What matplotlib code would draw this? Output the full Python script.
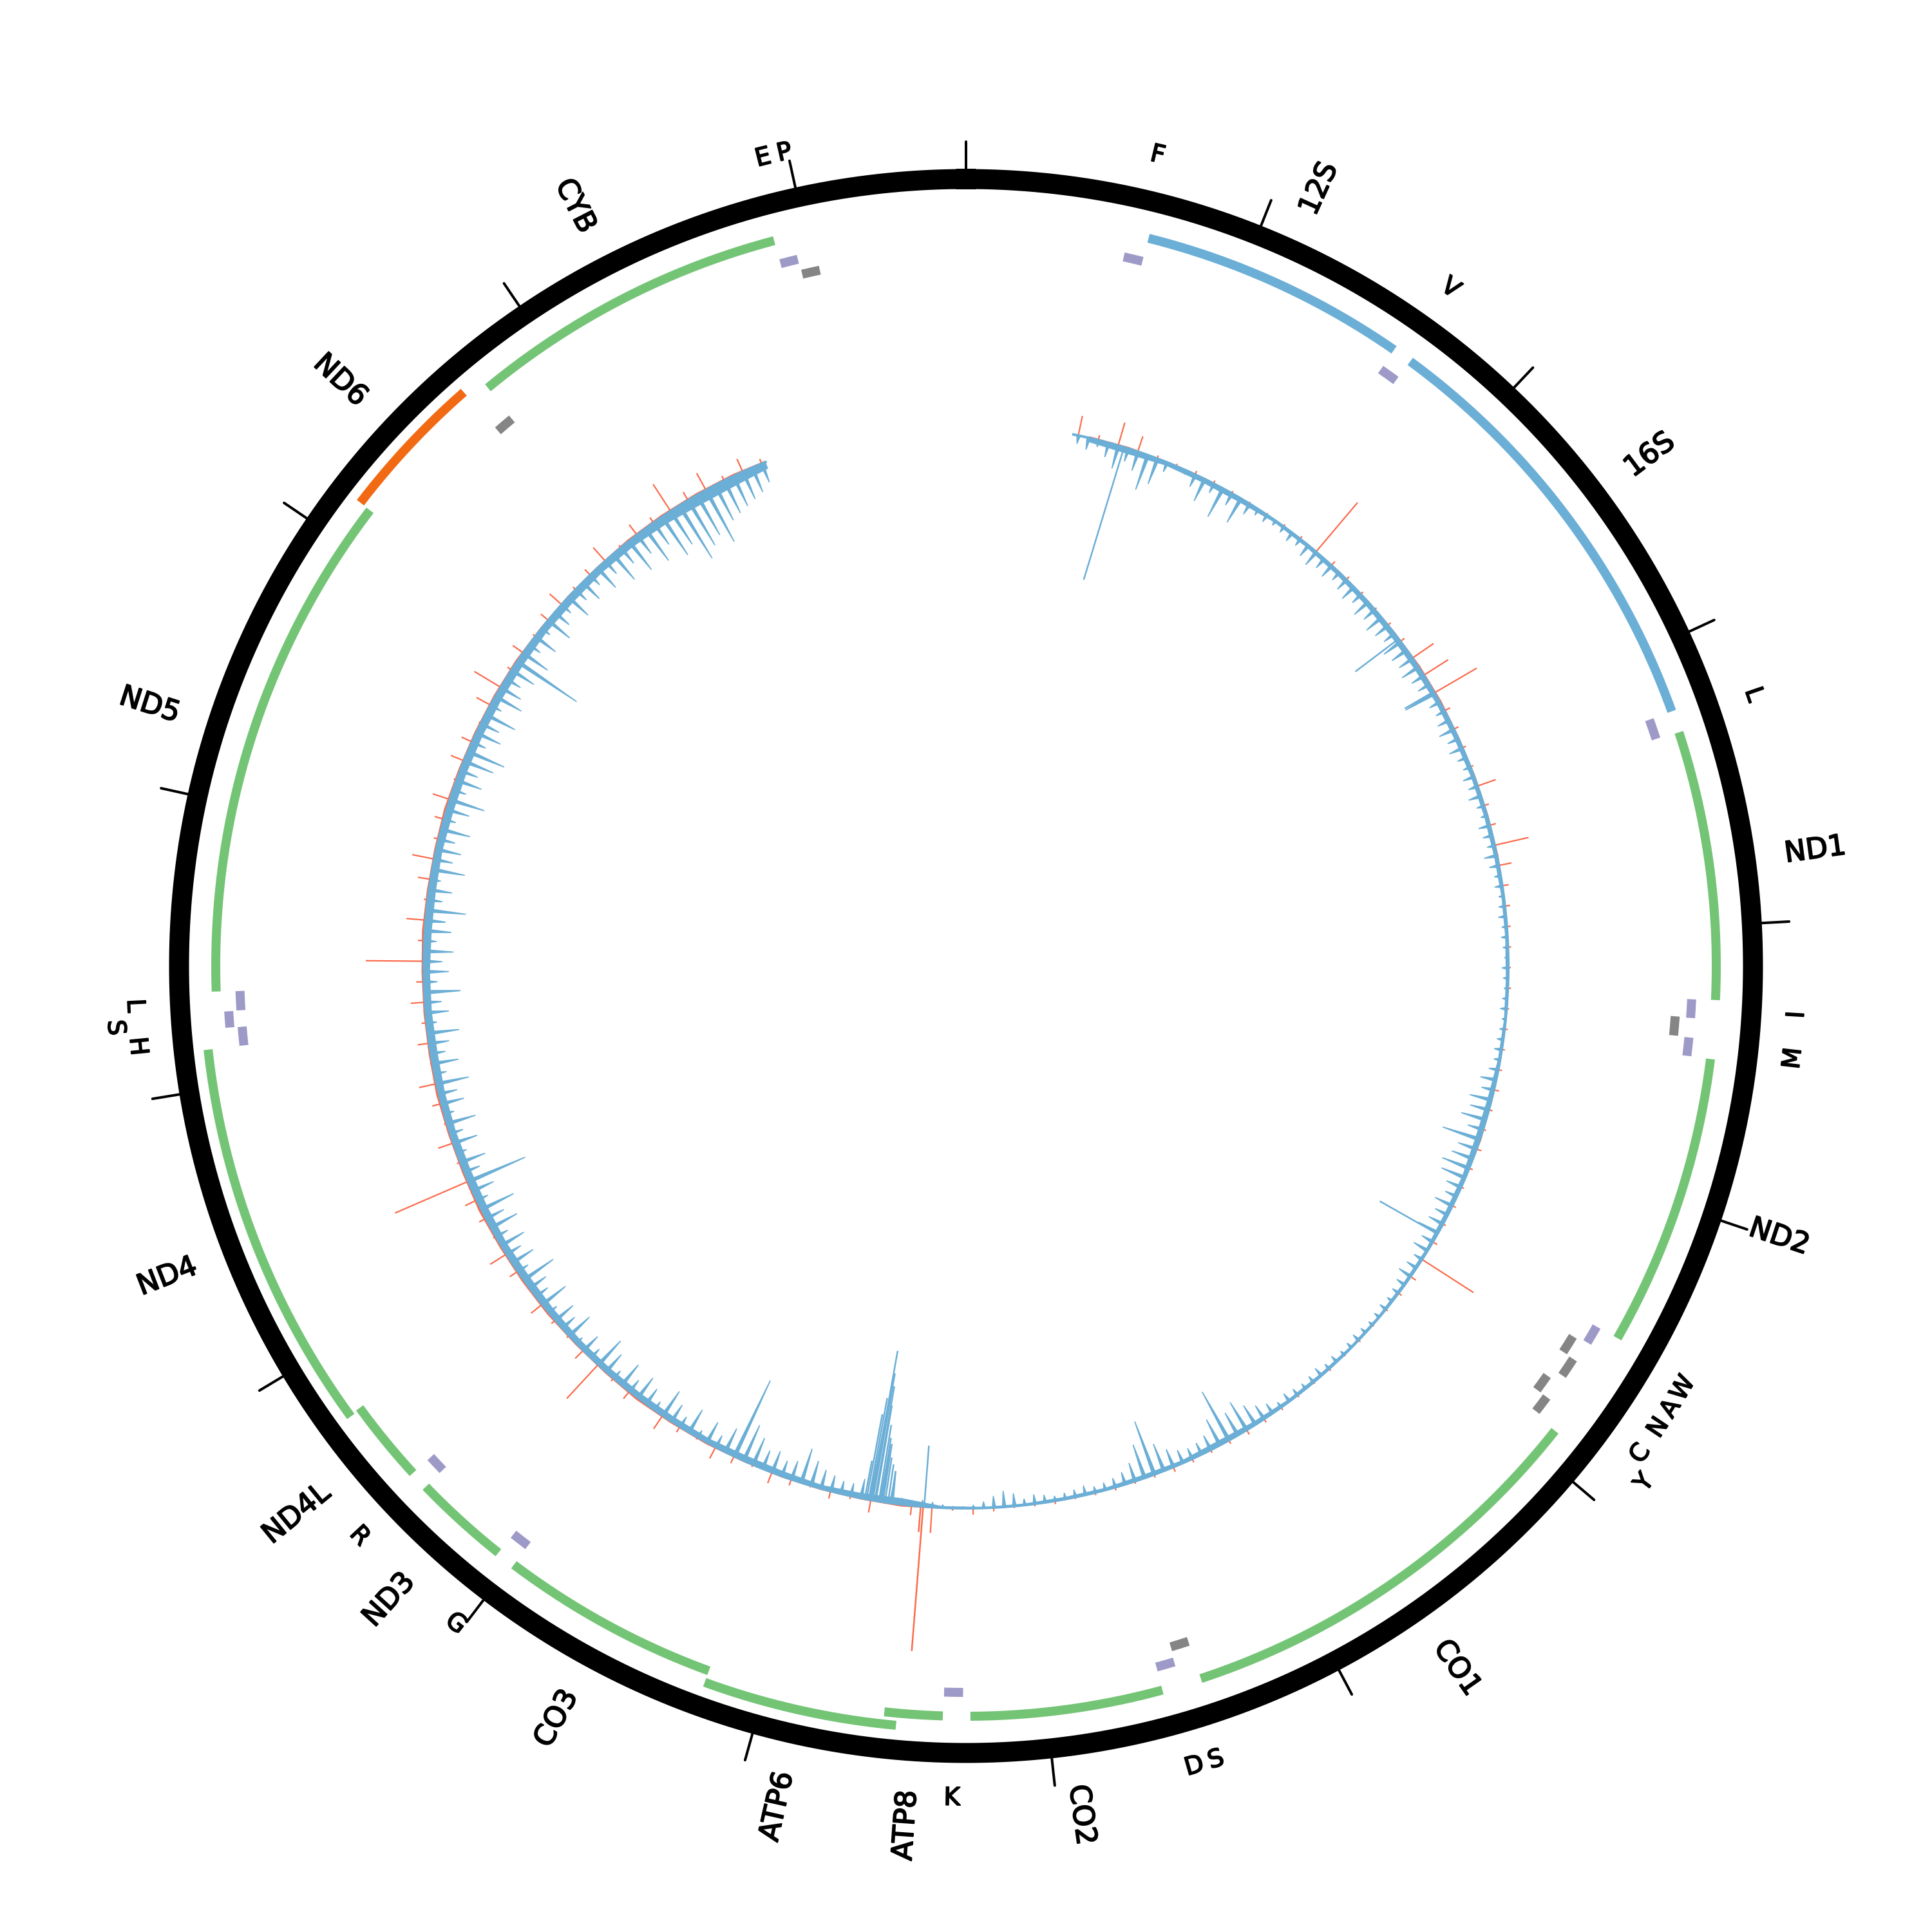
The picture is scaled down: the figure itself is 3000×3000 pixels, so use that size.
import numpy as np
import matplotlib
matplotlib.use("Agg")
import matplotlib.pyplot as plt
import matplotlib.patheffects as pe

plt.rcParams['font.family'] = ['DejaVu Sans']

GENOME_LEN = 16569

# ---------------- gene annotation ----------------
cds_names = ['ND1', 'ND2', 'CO1', 'CO2', 'ATP8', 'ATP6', 'CO3', 'ND3', 'ND4L', 'ND4', 'ND5', 'ND6', 'CYB']
cds_start = [3307, 4470, 5904, 7586, 8366, 8527, 9207, 10059, 10470, 10760, 12337, 14149, 14747]
cds_end = [4262, 5511, 7445, 8269, 8572, 9207, 9990, 10404, 10766, 12137, 14148, 14673, 15887]
cds_strand = ['H', 'H', 'H', 'H', 'H', 'H', 'H', 'H', 'H', 'H', 'H', 'L', 'H']

rrna_names = ['12S', '16S']
rrna_start = [648, 1671]
rrna_end = [1601, 3229]

trna_labels = ['F', 'V', 'L', 'I', '', 'M', 'W', 'A', 'N', 'C', 'Y', 'S', 'D', 'K', 'G', 'R',
               'H', 'S', 'L', '', 'E', 'P']
trna_start = [577, 1602, 3230, 4263, 4329, 4402, 5512, 5587, 5657, 5761, 5826, 7446, 7518, 8295,
              9991, 10405, 12138, 12207, 12266, 14674, 15888, 15956]
trna_end = [647, 1670, 3304, 4331, 4400, 4469, 5579, 5655, 5729, 5826, 5891, 7514, 7585, 8364,
            10058, 10469, 12206, 12265, 12336, 14742, 15953, 16023]
trna_strand = ['H', 'H', 'H', 'H', 'L', 'H', 'H', 'L', 'L', 'L', 'L', 'L', 'H', 'H',
               'H', 'H', 'H', 'H', 'H', 'L', 'H', 'L']

tick_positions = list(range(0, 17000, 1000))

# ---------------- signal track ----------------
signal_start, signal_end = 526, 15570

# blue signal (inward), one value per 50 bp from 550 bp
blue_pos0, blue_step = 550, 50
blue_vals = [
    12, 18, 10, 22, 36, 20, 30, 56, 41, 15,
    5, 6, 20, 37, 15, 49, 20, 42, 18, 10,
    12, 8, 10, 15, 12, 20, 25, 18, 22, 15,
    20, 25, 18, 28, 22, 30, 25, 20, 32, 28,
    25, 30, 22, 20, 52, 18, 15, 20, 25, 18,
    22, 15, 12, 18, 15, 20, 12, 10, 18, 15,
    12, 20, 15, 10, 12, 8, 10, 12, 8, 10,
    8, 6, 10, 8, 6, 8, 10, 6, 8, 10,
    12, 10, 15, 25, 20, 35, 30, 40, 25, 61,
    30, 35, 45, 40, 25, 20, 30, 22, 25, 35,
    20, 25, 15, 18, 22, 15, 12, 10, 12, 10,
    8, 10, 12, 10, 8, 12, 10, 15, 12, 10,
    12, 15, 10, 18, 25, 35, 50, 40, 86, 45,
    25, 20, 18, 22, 30, 45, 88, 55, 30, 20,
    15, 12, 10, 15, 12, 10, 8, 12, 15, 10,
    20, 25, 18, 10, 5, 3, 3, 5, 8, 10,
    8, 10, 50, 90, 140, 30, 20, 20, 25, 30,
    40, 55, 30, 25, 35, 30, 45, 60, 130, 40,
    20, 35, 12, 40, 18, 30, 45, 15, 28, 38,
    22, 40, 15, 35, 50, 18, 30, 12, 42, 25,
    35, 15, 45, 22, 30, 55, 18, 38, 25, 40,
    20, 45, 30, 55, 18, 35, 95, 25, 40, 15,
    38, 20, 45, 15, 35, 28, 50, 18, 40, 22,
    30, 48, 15, 35, 25, 55, 20, 38, 28, 45,
    18, 40, 30, 60, 22, 35, 15, 50, 28, 38,
    25, 45, 18, 35, 55, 20, 40, 28, 48, 60,
    22, 40, 30, 50, 18, 45, 35, 25, 40, 110,
    45, 20, 38, 15, 42, 28, 18, 40, 22, 35,
    20, 40, 25, 50, 30, 55, 35, 60, 40, 70,
    60, 95, 80, 70, 90, 60, 55, 50, 45, 40,
    30]

# red signal (outward), one value per 100 bp from 550 bp
red_pos0, red_step = 550, 100
red_vals = [
    31, 8, 37, 25, 5, 4, 6, 5, 4, 3,
    3, 4, 5, 100, 8, 6, 5, 4, 6, 8,
    40, 45, 76, 10, 8, 6, 5, 30, 8, 10,
    54, 20, 10, 8, 6, 5, 4, 5, 4, 5,
    5, 6, 8, 6, 5, 8, 6, 5, 6, 5,
    8, 95, 10, 6, 4, 3, 4, 3, 4, 3,
    4, 5, 6, 8, 6, 5, 6, 8, 5, 4,
    5, 4, 3, 5, 4, 3, 6, 10, 4, 40,
    15, 2, 20, 5, 12, 3, 10, 18, 4, 12,
    20, 4, 10, 25, 3, 15, 6, 72, 18, 5,
    8, 22, 3, 15, 30, 5, 12, 20, 124, 6,
    25, 5, 15, 28, 4, 18, 8, 22, 12, 90,
    10, 30, 6, 20, 35, 8, 15, 28, 5, 22,
    18, 4, 25, 48, 8, 20, 5, 15, 25, 6,
    12, 28, 5, 20, 10, 50, 15, 30, 8, 22,
    8]

# dense core of the signal near the baseline, one value per 200 bp from 600 bp
core_pos0, core_step = 600, 200
blue_core = [6, 8, 5, 6, 6, 3, 4, 5, 6, 7,
             7, 6, 6, 5, 5, 5, 4, 4, 4, 3,
             4, 7, 8, 6, 6, 4, 4, 3, 3, 4,
             4, 6, 8, 5, 6, 4, 4, 3, 2, 3,
             10, 8, 6, 8, 9, 7, 8, 8, 8, 8,
             9, 10, 9, 10, 10, 9, 9, 10, 9, 9,
             10, 10, 9, 10, 10, 10, 10, 10, 9, 10,
             9, 10, 12, 15, 14, 10]
red_core = [3, 3, 2, 2, 2, 1, 2, 2, 2, 2,
            3, 3, 2, 2, 2, 2, 1, 1, 1, 1,
            1, 1, 2, 1, 1, 1, 1, 1, 1, 1,
            1, 1, 1, 1, 1, 1, 1, 1, 1, 1,
            3, 2, 2, 2, 2, 3, 3, 4, 3, 3,
            4, 4, 4, 5, 4, 4, 5, 4, 4, 4,
            5, 4, 4, 5, 4, 4, 4, 4, 3, 3,
            3, 4, 4, 4, 4, 3]

# isolated extra-long spikes
blue_spike_bp = [780, 2435, 2743, 5505, 8488,
                 8650, 8665, 8680, 8690, 8700, 8710, 8725, 8730, 8740, 8748, 8760, 8771, 8780]
blue_spike_len = [215, 84, 52, 103, 95,
                  50, 60, 70, 91, 100, 120, 150, 180, 200, 235, 160, 134, 60]
red_spike_bp = [8493, 8505]
red_spike_len = [225, 40]

# ---------------- styling ----------------
GREEN = '#74c476'
ORANGE = '#f16913'
RRNA_BLUE = '#6baed6'
PURPLE = '#9e9ac8'
GRAY = '#858585'
SIG_BLUE = '#6baed6'
SIG_RED = '#fb6a4a'
PX = 72 / 300.0

R_RING = 1222
R_GENE = 1165
R_TRNA_H = 1128
R_TRNA_L = 1104
ROW_STEP = 19
R_SIG = 842
TEXT_FX = [pe.withStroke(linewidth=0.45, foreground='black')]


def ang(bp):
    return np.asarray(bp, dtype=float) / GENOME_LEN * 2 * np.pi


def assign_rows(starts, ends, pad=5):
    rows_end = []
    order = np.argsort(starts)
    out = [0] * len(starts)
    for i in order:
        for k, e in enumerate(rows_end):
            if starts[i] > e + pad:
                rows_end[k] = ends[i]
                out[i] = k
                break
        else:
            rows_end.append(ends[i])
            out[i] = len(rows_end) - 1
    return out


fig = plt.figure(figsize=(10, 10), dpi=300)
ax = fig.add_axes([0, 0, 1, 1], projection='polar')
ax.set_theta_zero_location('N')
ax.set_theta_direction(-1)
ax.set_ylim(0, 1500)
ax.axis('off')


def arc(s, e, r, color, lw_px, z=3):
    t = np.linspace(ang(s), ang(e), 200)
    ax.plot(t, np.full_like(t, r), color=color, lw=lw_px * PX, solid_capstyle='butt', zorder=z)


# outer ring and ticks
t = np.linspace(0, 2 * np.pi, 2000)
ax.plot(t, np.full_like(t, R_RING), color='black', lw=31 * PX, zorder=2)
for p in tick_positions:
    ax.plot([ang(p), ang(p)], [R_RING + 14, R_RING + 58], color='black', lw=4 * PX,
            solid_capstyle='round', zorder=2)

# genes (cds + rrna share a track)
g_starts = cds_start + rrna_start
g_ends = cds_end + rrna_end
g_rows = assign_rows(g_starts, g_ends)
for i in range(len(cds_names)):
    col = GREEN if cds_strand[i] == 'H' else ORANGE
    arc(cds_start[i], cds_end[i], R_GENE + ROW_STEP * g_rows[i], col, 14)
for j in range(len(rrna_names)):
    arc(rrna_start[j], rrna_end[j], R_GENE + ROW_STEP * g_rows[len(cds_names) + j], RRNA_BLUE, 14)

# tRNAs
for strand, base, col in (('H', R_TRNA_H, PURPLE), ('L', R_TRNA_L, GRAY)):
    idx = [i for i in range(len(trna_start)) if trna_strand[i] == strand]
    rows = assign_rows([trna_start[i] for i in idx], [trna_end[i] for i in idx])
    for i, rw in zip(idx, rows):
        arc(trna_start[i], trna_end[i], base + ROW_STEP * rw, col, 14)


# labels
def radial_label(name, mid):
    th = mid / GENOME_LEN * 360.0
    if th < 180:
        rot, ha = 90 - th, 'left'
    else:
        rot, ha = 270 - th, 'right'
    ax.text(ang(mid), 1283, name, rotation=rot, ha=ha, va='center', rotation_mode='anchor',
            fontsize=10.7, color='black', path_effects=TEXT_FX)


def tangential_label(name, mid, row):
    th = mid / GENOME_LEN * 360.0
    rot = 180 - th if 90 < th < 270 else -th
    ax.text(ang(mid), 1293 + 32 * row, name, rotation=rot, ha='center', va='center',
            rotation_mode='anchor', fontsize=9.2, color='black', path_effects=TEXT_FX)


for i, n in enumerate(cds_names):
    radial_label(n, (cds_start[i] + cds_end[i]) / 2)
for j, n in enumerate(rrna_names):
    radial_label(n, (rrna_start[j] + rrna_end[j]) / 2)

lab = sorted([((trna_start[i] + trna_end[i]) / 2, n) for i, n in enumerate(trna_labels) if n])
last_mid = []
for mid, n in lab:
    for k, lm in enumerate(last_mid):
        if mid - lm >= 68:
            last_mid[k] = mid
            row = k
            break
    else:
        last_mid.append(mid)
        row = len(last_mid) - 1
    tangential_label(n, mid, row)


# signal track: each blue value drawn as a narrow blade on the baseline
def blades(pos0, step, vals, half):
    th, rr = [], []
    for k, v in enumerate(vals):
        p = pos0 + step * k
        th += [p - half, p, p + half]
        rr += [0, v, 0]
    th = np.clip(np.array(th, dtype=float), signal_start, signal_end)
    return ang(th), np.array(rr, dtype=float)


cp = np.clip(core_pos0 + core_step * np.arange(len(blue_core)), signal_start, signal_end)
ax.fill_between(ang(cp), R_SIG - np.array(blue_core), R_SIG, color=SIG_BLUE, lw=0, zorder=5)
ax.fill_between(ang(cp), R_SIG, R_SIG + np.array(red_core), color=SIG_RED, lw=0, zorder=4)
tb = np.linspace(ang(signal_start), ang(signal_end), 3000)
ax.plot(tb, np.full_like(tb, R_SIG), color=SIG_BLUE, lw=4 * PX, zorder=6)

bt, br = blades(blue_pos0, blue_step, blue_vals, 8)
ax.fill_between(bt, R_SIG - br, R_SIG, color=SIG_BLUE, lw=0.4, edgecolor=SIG_BLUE, zorder=5)
bp_r = red_pos0 + red_step * np.arange(len(red_vals))
ax.vlines(ang(bp_r), R_SIG, R_SIG + np.array(red_vals), color=SIG_RED, lw=2.2 * PX, zorder=4)

ax.vlines(ang(blue_spike_bp), R_SIG - np.array(blue_spike_len), R_SIG, color=SIG_BLUE,
          lw=2.5 * PX, zorder=5)
ax.vlines(ang(red_spike_bp), R_SIG, R_SIG + np.array(red_spike_len), color=SIG_RED,
          lw=2.5 * PX, zorder=4)

fig.savefig('out.png', dpi=300, facecolor='white')
